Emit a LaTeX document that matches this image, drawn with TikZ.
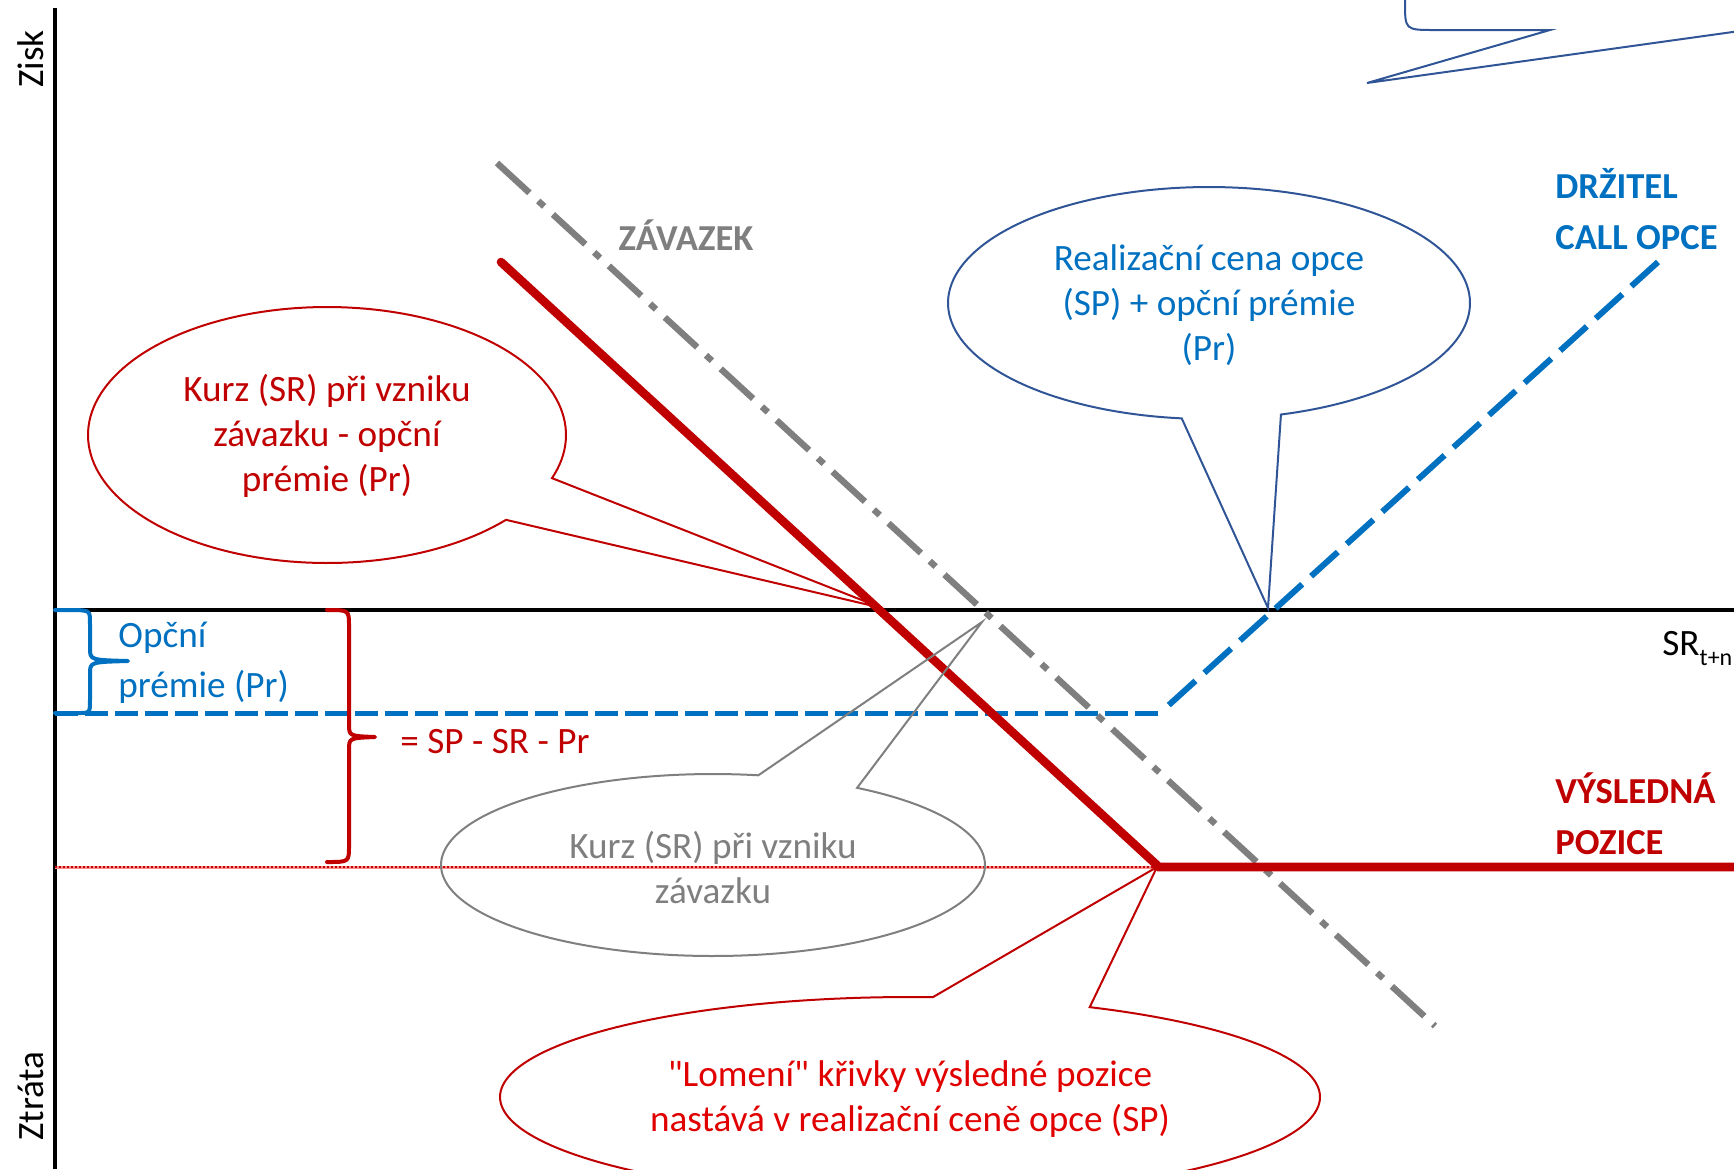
\documentclass[tikz,border=0pt]{standalone}
\usepackage{fontspec}
\setmainfont{Carlito}[Ligatures=TeXOff]
\usetikzlibrary{calc}
\definecolor{darkred}{RGB}{192,0,0}
\definecolor{brightred}{RGB}{225,0,0}
\definecolor{optblue}{RGB}{0,112,192}
\definecolor{calloutblue}{RGB}{47,85,151}
\definecolor{midgray}{RGB}{127,127,127}
\tikzset{
  txt/.style={font=\fontsize{18.6}{22.5}\selectfont, inner sep=0pt, align=center},
  boldtxt/.style={font=\fontsize{18.3}{25.5}\selectfont\bfseries, inner sep=0pt, align=left},
  axis/.style={line width=1.6pt, black},
  resultline/.style={line width=4.3pt, darkred, line cap=round, line join=miter},
  liabline/.style={line width=3.2pt, midgray, dash pattern=on 22pt off 6pt on 4pt off 6pt},
  callhoriz/.style={line width=2.5pt, optblue, dash pattern=on 11.5pt off 3.5pt},
  calldiag/.style={line width=3pt, optblue, dash pattern=on 18pt off 6pt},
  callred/.style={line width=1pt, darkred},
  callblue/.style={line width=1pt, calloutblue},
  callgray/.style={line width=1pt, midgray},
  bracestyle/.style={line width=2pt, line cap=round, line join=round},
}
\begin{document}
\begin{tikzpicture}[x=0.5pt,y=-0.5pt]
\useasboundingbox (0,0) rectangle (1734,1169);
\clip (0,0) rectangle (1734,1169);

% key points of the chart
\coordinate (yTop) at (55,8);
\coordinate (yBot) at (55,1169);
\coordinate (xL) at (55,610);
\coordinate (xR) at (1734,610);
\coordinate (premL) at (55,713);
\coordinate (callKink) at (1160,713);
\coordinate (callEnd) at (1658,262);
\coordinate (resStart) at (501,262);
\coordinate (resKink) at (1159,867);
\coordinate (resEnd) at (1734,867);
\coordinate (lossL) at (55,867);
\coordinate (liabStart) at (497,163);
\coordinate (liabEnd) at (1435,1026);
\coordinate (tipA) at (882,608);
\coordinate (tipB) at (1268,608);
\coordinate (tipC) at (982,622);
\coordinate (tipD) at (1157,867);
\coordinate (tipE) at (1367,83);

% axes
\draw[axis] (yTop) -- (yBot);
\draw[axis] (xL) -- (xR);

% level of the resulting loss
\draw[line width=1.5pt, red!45] (lossL) -- (resKink);
\draw[line width=0.7pt, darkred, dash pattern=on 1pt off 1pt] (lossL) -- (resKink);

% call option holder
\draw[callhoriz] (premL) -- (callKink);
\draw[calldiag] (callEnd) -- (callKink);

% liability
\draw[liabline] (liabStart) -- (liabEnd);

% resulting position
\draw[resultline] (resStart) -- (resKink) -- (resEnd);

% braces
\draw[bracestyle, optblue] (55,610) -- (78,610) .. controls (90,611) .. (90,624) -- (90,648)
  .. controls (90,660) .. (128,661) .. controls (90,662) .. (90,674) -- (90,700)
  .. controls (90,713) .. (78,713) -- (55,713);
\draw[bracestyle, darkred] (327,610) .. controls (349,610) .. (349,626) -- (349,724)
  .. controls (349,736) .. (375,737) .. controls (349,738) .. (349,750) -- (349,846)
  .. controls (349,862) .. (327,862);

% callouts
\draw[callred] plot[domain=41.5:379.7, samples=160] ({327+239*cos(\x)},{435+128*sin(\x)}) -- (tipA) -- cycle;
\draw[callblue] plot[domain=96:434, samples=160] ({1209+261*cos(\x)},{303+116*sin(\x)}) -- (tipB) -- cycle;
\draw[callgray] plot[domain=302:639.6, samples=160] ({713+272*cos(\x)},{865+91*sin(\x)}) -- (tipC) -- cycle;
\draw[callred] plot[domain=296:633.2, samples=200] ({910+410*cos(\x)},{1097+100*sin(\x)}) -- (tipD) -- cycle;
\draw[callblue] (1405,-20) -- (1405,2) .. controls (1405,30) and (1405,30) .. (1435,30)
  -- (1550,30) -- (tipE) -- (1747,30) -- (1800,30);

% axis labels
\node[txt, rotate=90] (zisk) at (31,59) {Zisk};
\node[txt, rotate=90] (ztrata) at (31,1096) {Ztráta};
\node[txt, anchor=base west] (sr) at (1662,655) {SR\raisebox{-0.28em}{\fontsize{12}{12}\selectfont t+n}};

% line labels
\node[boldtxt, text=midgray, align=center] (zav) at (686,235) {ZÁVAZEK};
\node[boldtxt, text=optblue, anchor=west] (drz) at (1555,209) {DRŽITEL\\CALL OPCE};
\node[boldtxt, text=darkred, anchor=west] (vys) at (1555,814) {VÝSLEDNÁ\\POZICE};

% brace labels
\node[txt, text=optblue, align=left, anchor=west, font=\fontsize{18.6}{25}\selectfont] (prem) at (118,663) {Opční\\prémie (Pr)};
\node[txt, text=darkred, anchor=west] (diff) at (400,742) {= SP - SR - Pr};

% callout texts
\node[txt, text=darkred] (ta) at (327,436) {Kurz (SR) při vzniku\\závazku - opční\\prémie (Pr)};
\node[txt, text=optblue] (tb) at (1209,305) {Realizační cena opce\\(SP) + opční prémie\\(Pr)};
\node[txt, text=midgray] (tc) at (713,868) {Kurz (SR) při vzniku\\závazku};
\node[txt, text=brightred] (td) at (910,1099) {"Lomení" křivky výsledné pozice\\nastává v realizační ceně opce (SP)};
\end{tikzpicture}
\end{document}
